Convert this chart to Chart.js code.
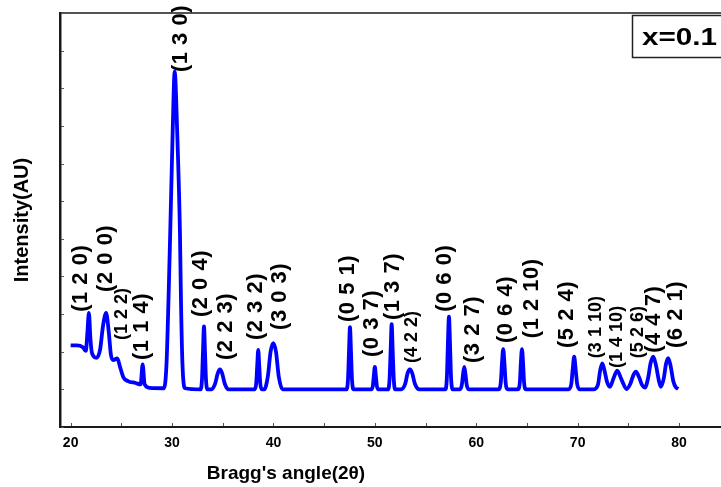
<!DOCTYPE html>
<html>
<head>
<meta charset="utf-8">
<script src="https://cdn.jsdelivr.net/npm/chart.js@4.4.1/dist/chart.umd.min.js"></script>
<style>
html,body{margin:0;padding:0;background:#fff;}
#wrap{width:721px;height:487px;position:relative;}
</style>
</head>
<body>
<div id="wrap"><canvas id="c" width="721" height="487"></canvas></div>
<script>
// Diffraction pattern (2θ in degrees, intensity in arbitrary units)
const angle = [20.0,20.6,21.2,21.5,21.65,21.8,21.95,22.1,22.55,22.9,23.2,23.5,23.75,23.97,24.2,24.6,24.9,25.2,25.65,26.4,26.9,27.1,27.3,27.8,
29.2,29.45,29.65,29.82,30.06,30.26,30.51,30.78,30.88,31.03,31.3,
32.8,32.95,33.05,33.15,33.25,33.35,33.5,
33.9,34.25,34.5,34.72,34.95,35.2,35.6,
38.15,38.3,38.4,38.5,38.6,38.7,38.85,
39.1,39.45,39.72,39.98,40.25,40.52,40.9,
47.2,47.35,47.45,47.55,47.65,47.75,47.9,
49.65,49.8,49.9,50.0,50.1,50.2,50.35,
51.3,51.45,51.56,51.66,51.76,51.87,52.0,
52.6,53.0,53.22,53.46,53.7,53.95,54.4,
56.95,57.1,57.2,57.31,57.42,57.52,57.7,
58.35,58.58,58.7,58.82,58.94,59.06,59.3,
62.2,62.42,62.54,62.66,62.78,62.9,63.1,
64.1,64.3,64.4,64.51,64.62,64.72,64.9,
69.1,69.38,69.52,69.66,69.8,69.95,70.2,
71.55,72.0,72.22,72.43,72.65,72.9,73.19,73.55,73.91,74.3,74.83,75.2,75.5,75.75,76.05,76.35,76.64,
76.95,77.2,77.46,77.72,78.0,78.21,78.5,78.72,78.93,79.15,79.45,79.7,79.92];
const intensity = [2.17,2.17,2.12,2.02,2.5,3.03,2.35,1.97,1.84,2.05,2.7,3.03,2.55,1.92,1.78,1.82,1.57,1.32,1.22,1.17,1.13,1.66,1.13,1.04,
1.03,1.65,3.38,5.16,7.82,9.44,7.82,5.16,3.38,1.65,1.03,
1.0,1.25,2.0,2.67,2.0,1.25,1.0,
1.0,1.15,1.42,1.53,1.42,1.15,1.0,
1.0,1.16,1.63,2.05,1.63,1.16,1.0,
1.0,1.35,2.0,2.23,2.0,1.35,1.0,
1.0,1.25,1.99,2.65,1.99,1.25,1.0,
1.0,1.09,1.36,1.6,1.36,1.09,1.0,
1.0,1.26,2.04,2.73,2.04,1.26,1.0,
1.0,1.15,1.42,1.53,1.42,1.15,1.0,
1.0,1.29,2.16,2.93,2.16,1.29,1.0,
1.0,1.12,1.4,1.6,1.4,1.12,1.0,
1.0,1.18,1.7,2.07,1.7,1.18,1.0,
1.0,1.18,1.7,2.07,1.7,1.18,1.0,
1.0,1.15,1.55,1.87,1.55,1.15,1.0,
1.0,1.12,1.5,1.69,1.5,1.2,1.07,1.3,1.5,1.28,1.01,1.15,1.38,1.47,1.33,1.12,1.05,
1.3,1.7,1.87,1.65,1.25,1.07,1.3,1.68,1.83,1.65,1.2,1.05,1.01];

// Miller-index annotations: text, and where each label starts (2θ, intensity level)
const hklLabels = ["(1 2 0)","(2 0 0)","(1 2 2)","(1 1 4)","(1 3 0)","(2 0 4)","(2 2 3)","(2 3 2)","(3 0 3)","(0 5 1)","(0 3 7)","(1 3 7)","(4 2 2)","(0 6 0)","(3 2 7)","(0 6 4)","(1 2 10)","(5 2 4)","(3 1 10)","(1 4 10)","(5 2 6)","(4 4 7)","(6 2 1)"];
const hklAngle = [21.02,23.48,25.11,27.08,30.88,32.85,35.36,38.27,40.69,47.30,49.76,51.74,53.71,56.96,59.72,62.93,65.54,68.99,71.80,73.93,75.95,77.53,79.74];
const hklLevel = [3.06,3.59,2.31,1.78,9.43,2.92,1.78,2.31,2.58,2.79,1.86,2.84,1.70,3.06,1.70,2.23,2.36,2.10,1.83,1.57,1.83,1.97,2.10];
const hklSmall = ["(1 2 2)","(4 2 2)","(3 1 10)","(1 4 10)","(5 2 6)"];

const xTickStep = 5;
const sampleName = "x=0.1";
const xTitle = "Bragg's angle(2\u03B8)";
const yTitle = "Intensity(AU)";

const FONT = "'Liberation Sans', Arial, Helvetica, sans-serif";
const AXIS = '#1a1a1a';

const points = angle.map((a, i) => ({x: a, y: intensity[i]}));

const decor = {
  id: 'decor',
  afterDraw(chart) {
    const {ctx, chartArea: ca, scales: {x, y}} = chart;
    ctx.save();
    // top frame line
    ctx.strokeStyle = AXIS;
    ctx.lineWidth = 1.5;
    ctx.beginPath();
    ctx.moveTo(ca.left, ca.top);
    ctx.lineTo(ca.right, ca.top);
    ctx.stroke();
    // inward tick marks
    ctx.lineWidth = 1;
    ctx.strokeStyle = '#555';
    x.ticks.forEach(t => {
      const px = Math.round(x.getPixelForValue(t.value)) + 0.5;
      ctx.beginPath(); ctx.moveTo(px, ca.bottom - 1); ctx.lineTo(px, ca.bottom - 4); ctx.stroke();
    });
    y.ticks.forEach(t => {
      const py = Math.round(y.getPixelForValue(t.value)) + 0.5;
      ctx.beginPath(); ctx.moveTo(ca.left + 1, py); ctx.lineTo(ca.left + 4, py); ctx.stroke();
    });
    // hkl labels, rotated
    ctx.fillStyle = '#000';
    ctx.textAlign = 'left';
    ctx.textBaseline = 'middle';
    hklLabels.forEach((txt, i) => {
      const px = x.getPixelForValue(hklAngle[i]);
      const py = y.getPixelForValue(hklLevel[i]);
      const small = hklSmall.includes(txt);
      ctx.save();
      ctx.translate(px, py);
      ctx.rotate(-Math.PI / 2);
      ctx.font = 'bold ' + (small ? 18 : 22) + 'px ' + FONT;
      ctx.letterSpacing = small ? '0px' : '0.5px';
      ctx.fillText(txt, 0, 0);
      ctx.restore();
    });
    ctx.letterSpacing = '0px';
    // sample box
    ctx.fillStyle = '#fff';
    ctx.strokeStyle = '#222';
    ctx.lineWidth = 1.5;
    ctx.fillRect(632.5, 15.5, 100, 42);
    ctx.strokeRect(632.5, 15.5, 100, 42);
    ctx.fillStyle = '#000';
    ctx.font = 'bold 24px ' + FONT;
    ctx.textAlign = 'left';
    ctx.textBaseline = 'alphabetic';
    const w = ctx.measureText(sampleName).width;
    ctx.save();
    ctx.translate(642, 45);
    ctx.scale(75 / w, 1);
    ctx.fillText(sampleName, 0, 0);
    ctx.restore();
    // x axis title
    ctx.font = 'bold 19px ' + FONT;
    ctx.textAlign = 'center';
    ctx.fillText(xTitle, 286, 479);
    ctx.restore();
  }
};

new Chart(document.getElementById('c'), {
  type: 'line',
  data: {
    datasets: [{
      label: sampleName,
      data: points,
      borderColor: '#0000ff',
      borderWidth: 3.8,
      pointRadius: 0,
      fill: false,
      cubicInterpolationMode: 'monotone'
    }]
  },
  options: {
    responsive: false,
    animation: false,
    events: [],
    layout: {padding: {top: 13, right: 0, left: 0, bottom: 0}},
    plugins: {legend: {display: false}, tooltip: {enabled: false}},
    scales: {
      x: {
        type: 'linear',
        min: 18.95,
        max: 84.14,
        afterFit: s => { s.height = 60; },
        grid: {display: true, drawOnChartArea: false, drawTicks: false},
        border: {display: true, color: AXIS, width: 2},
        ticks: {
          stepSize: xTickStep,
          includeBounds: false,
          autoSkip: false,
          maxRotation: 0,
          padding: 8,
          color: '#000',
          font: {family: FONT, size: 14, weight: 'bold'},
          callback: v => (v % 10 === 0 ? String(v) : '')
        },
        title: {display: false}
      },
      y: {
        type: 'linear',
        min: 0,
        max: 11,
        afterFit: s => { s.width = 60; },
        grid: {display: true, drawOnChartArea: false, drawTicks: false},
        border: {display: true, color: AXIS, width: 2.5},
        ticks: {display: false, stepSize: 1},
        title: {
          display: true,
          text: yTitle,
          color: '#000',
          font: {family: FONT, size: 20, weight: 'bold'},
          padding: {top: 10, bottom: 0}
        }
      }
    }
  },
  plugins: [decor]
});
</script>
</body>
</html>
